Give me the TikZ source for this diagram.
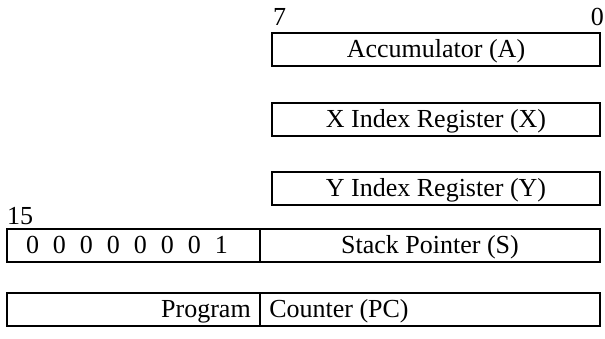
\documentclass[tikz,border=0pt]{standalone}
\usepackage{fontspec}
\setmainfont{Liberation Serif}
\usetikzlibrary{calc}
\newcommand{\regfont}{\fontsize{26}{30}\selectfont}
\begin{document}
\begin{tikzpicture}[x=1pt,y=1pt,
  reg/.style={draw, line width=1.9pt, inner sep=0pt, minimum height=33pt, text height=19pt, text depth=2pt, font=\regfont},
  lbl/.style={inner sep=0pt, font=\regfont},
  inlbl/.style={lbl, text height=19pt, text depth=2pt}]
\useasboundingbox (0,0) rectangle (605,339);
% upper 8-bit registers
\node[reg, minimum width=328pt] (acc) at (436,289.5) {Accumulator (A)};
\node[reg, minimum width=328pt] (xr) at (436,219.5) {X Index Register (X)};
\node[reg, minimum width=328pt] (yr) at (436,150.5) {Y Index Register (Y)};
% bit labels
\node[lbl, anchor=base west] (b7) at (273,313) {7};
\node[lbl, anchor=base east] (b0) at (604,313) {0};
\node[lbl, anchor=base west] (b15) at (7,114) {15};
% stack pointer
\node[reg, minimum width=253pt] (sl) at (133.5,93.5) {};
\node[reg, minimum width=340pt] (sr) at (430,93.5) {Stack Pointer (S)};
\node[inlbl] (sbits) at (127,93.5) {0\hspace{14pt}0\hspace{14pt}0\hspace{14pt}0\hspace{14pt}0\hspace{14pt}0\hspace{14pt}0\hspace{14pt}1};
% program counter
\node[reg, minimum width=253pt] (pl) at (133.5,29.5) {};
\node[reg, minimum width=340pt] (pr) at (430,29.5) {};
\node[inlbl, anchor=east] (prog) at ($(pl.east)+(-10,0)$) {Program};
\node[inlbl, anchor=west] (cnt) at ($(pr.west)+(10,0)$) {Counter (PC)};
\end{tikzpicture}
\end{document}
